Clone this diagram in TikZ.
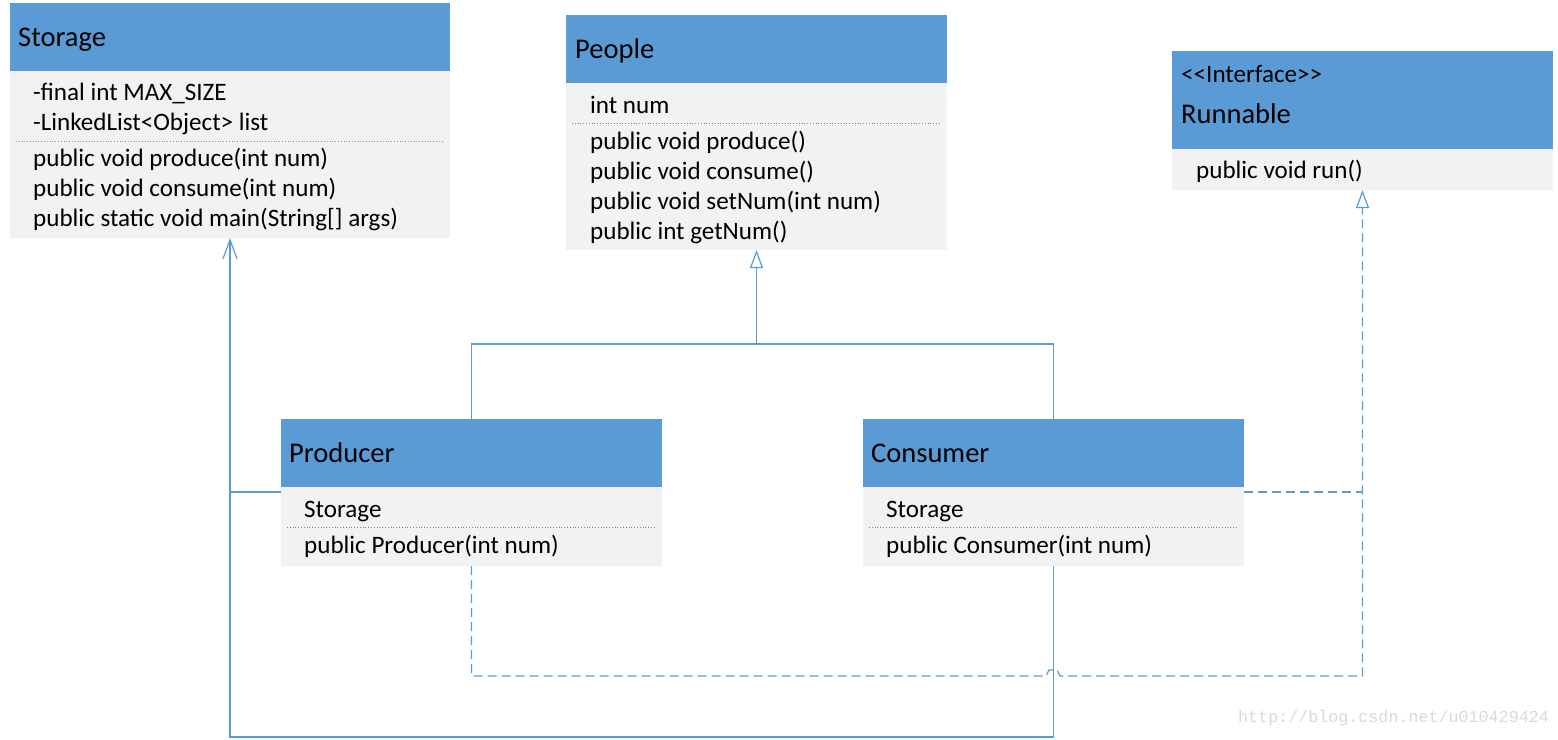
\documentclass[tikz,border=0pt]{standalone}
\usepackage{fontspec}
\setmainfont{Carlito}
\newfontfamily\wmfont{Liberation Mono}
\usetikzlibrary{arrows.meta}
\definecolor{hdr}{HTML}{5B9BD5}
\definecolor{bodyc}{HTML}{F2F2F2}
\definecolor{lnc}{HTML}{5B9BD5}
\definecolor{sepgray}{HTML}{7F7F7F}
\begin{document}
\begin{tikzpicture}[x=1pt,y=-1pt,
  hdrbox/.style={fill=hdr, draw=none, anchor=north west, inner sep=0pt, outer sep=0pt},
  bodybox/.style={fill=bodyc, draw=none, anchor=north west, inner sep=0pt, outer sep=0pt},
  ttl/.style={anchor=west, inner sep=0pt, yshift=-2pt, font=\fontsize{28.5}{32}\selectfont, text height=20pt, text depth=6pt},
  txt/.style={anchor=west, inner sep=0pt, yshift=-2pt, font=\fontsize{25.1}{28}\selectfont, text height=17pt, text depth=5pt},
  sepblue/.style={draw=lnc, dotted, line width=0.8pt},
  sepg/.style={draw=sepgray, dotted, line width=0.8pt},
  conn/.style={draw=lnc, line width=1.2pt},
  dconn/.style={conn, dash pattern=on 9pt off 5pt},
  inh/.style={-{Triangle[open, length=18pt, width=13pt, line width=1.2pt]}},
  assoc/.style={-{Straight Barb[length=19pt, width=14pt, line width=1.2pt]}}
]
\useasboundingbox (0,0) rectangle (1558,739);

% Storage
\node[hdrbox, minimum width=440pt, minimum height=68pt] (storageH) at (10,3) {};
\node[bodybox, minimum width=440pt, minimum height=167pt] (storageB) at (10,71) {};
\node[ttl] (storageT) at (18,37) {Storage};
\node[txt] (s1) at (33,92) {-final int MAX\_SIZE};
\node[txt] (s2) at (33,122) {-LinkedList<Object> list};
\draw[sepblue] (16,141) -- (444,141);
\node[txt] (s3) at (33,158) {public void produce(int num)};
\node[txt] (s4) at (33,188) {public void consume(int num)};
\node[txt] (s5) at (33,218) {public static void main(String[] args)};

% People
\node[hdrbox, minimum width=381pt, minimum height=68pt] (peopleH) at (566,15) {};
\node[bodybox, minimum width=381pt, minimum height=167pt] (peopleB) at (566,83) {};
\node[ttl] (peopleT) at (575,49) {People};
\node[txt] (p1) at (590,105) {int num};
\draw[sepg] (572,123) -- (941,123);
\node[txt] (p2) at (590,141) {public void produce()};
\node[txt] (p3) at (590,171) {public void consume()};
\node[txt] (p4) at (590,201) {public void setNum(int num)};
\node[txt] (p5) at (590,231) {public int getNum()};

% Runnable
\node[hdrbox, minimum width=381pt, minimum height=98pt] (runH) at (1172,51) {};
\node[bodybox, minimum width=381pt, minimum height=41pt] (runB) at (1172,149) {};
\node[txt] (r0) at (1181,74) {<{}<Interface>{}>};
\node[ttl] (runT) at (1181,114) {Runnable};
\node[txt] (r1) at (1196,170) {public void run()};

% Producer
\node[hdrbox, minimum width=381pt, minimum height=68pt] (prodH) at (281,419) {};
\node[bodybox, minimum width=381pt, minimum height=79pt] (prodB) at (281,487) {};
\node[ttl] (prodT) at (289,453) {Producer};
\node[txt] (pr1) at (304,509) {Storage};
\draw[sepg] (287,527) -- (656,527);
\node[txt] (pr2) at (304,545) {public Producer(int num)};

% Consumer
\node[hdrbox, minimum width=381pt, minimum height=68pt] (consH) at (863,419) {};
\node[bodybox, minimum width=381pt, minimum height=79pt] (consB) at (863,487) {};
\node[ttl] (consT) at (871,453) {Consumer};
\node[txt] (c1) at (886,509) {Storage};
\draw[sepg] (869,527) -- (1238,527);
\node[txt] (c2) at (886,545) {public Consumer(int num)};

% inheritance People
\coordinate (ij) at (peopleB.south |- 0,344);
\draw[conn] (prodH.north) -- (prodH.north |- ij) -| (consH.north);
\draw[conn, inh] (ij) -- (peopleB.south);

% association Storage
\coordinate (pj) at ([yshift=-5pt]prodB.north west);
\draw[conn, assoc] (consB.south) -- ++(0,171) -| (storageB.south);
\draw[conn] (pj) -- (storageB.south |- pj);

% realization Runnable
\coordinate (h1) at (1046,676);
\coordinate (h2) at (1060,676);
\coordinate (cj) at ([yshift=-5pt]consB.north east);
\draw[dconn, inh] (prodB.south) -- (prodB.south |- h1) -- (h1) -- (1049,670) -- (1057,670) -- (h2) -| (runB.south);
\draw[dconn] (cj) -- (runB.south |- cj);

% watermark
\node[anchor=west, inner sep=0pt, font=\wmfont\fontsize{16.7}{20}\selectfont, text=black!15] (wm) at (1238,718) {http://blog.csdn.net/u010429424};
\end{tikzpicture}
\end{document}
